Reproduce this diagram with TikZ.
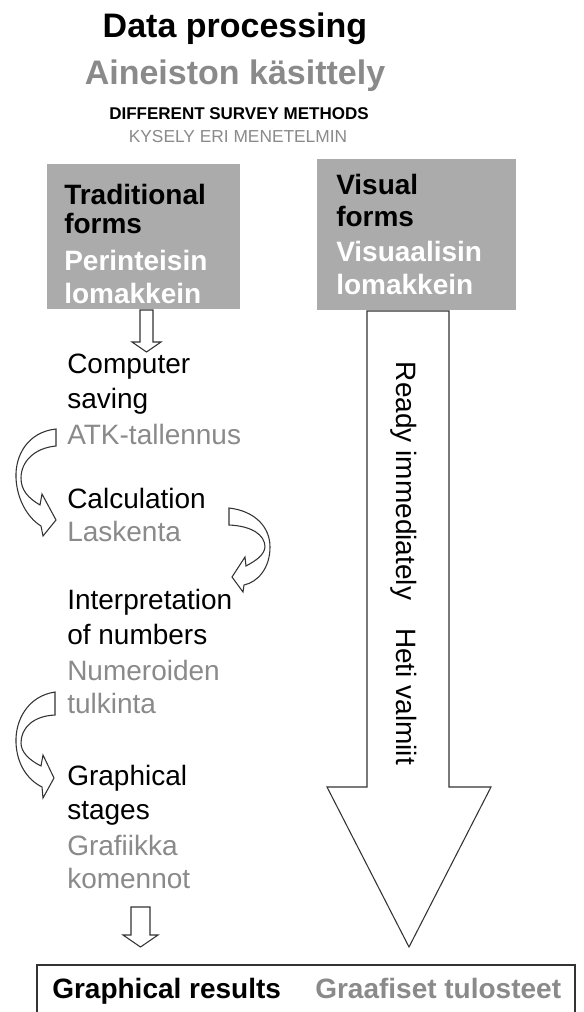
\documentclass[tikz,border=0pt]{standalone}
\usepackage{fontspec}
\setmainfont{Liberation Sans}
\definecolor{txtgray}{HTML}{8A8A8A}
\definecolor{boxgray}{HTML}{ABABAB}
\definecolor{linegray}{HTML}{333333}
\tikzset{
  lbl/.style={inner sep=0pt, anchor=base west, font=\fontsize{21}{25}\selectfont},
  lblfi/.style={lbl, text=txtgray},
  boxtxt/.style={inner sep=0pt, anchor=base west, font=\bfseries\fontsize{21}{25}\selectfont},
  boxtxtfi/.style={boxtxt, text=white},
  graybox/.style={fill=boxgray, inner sep=0pt, draw=none},
  arr/.style={draw=linegray, line width=0.8pt, fill=white, line join=miter},
  titletxt/.style={inner sep=0pt, anchor=base, font=\bfseries\fontsize{25.5}{30}\selectfont},
}
\begin{document}
\begin{tikzpicture}[x=0.75pt,y=-0.75pt]
\useasboundingbox (0,0) rectangle (584,1012);
\clip (0,0) rectangle (584,1012);
\fill[white] (0,0) rectangle (584,1012);

% titles
\node[titletxt] (t1) at (235,38) {Data processing};
\node[titletxt, text=txtgray] (t2) at (235,85) {Aineiston käsittely};
\node[inner sep=0pt, anchor=base, font=\bfseries\fontsize{12.75}{15}\selectfont] (t3) at (239,120) {DIFFERENT SURVEY METHODS};
\node[inner sep=0pt, anchor=base, text=txtgray, font=\fontsize{13}{15}\selectfont] (t4) at (238,143) {KYSELY ERI MENETELMIN};

% gray boxes
\node[graybox, minimum width=144.75pt, minimum height=108.75pt] (trad) at (143.5,236.5) {};
\node[graybox, minimum width=149.25pt, minimum height=113.25pt] (vis) at (416.5,234.5) {};
\node[boxtxt] (tr1) at (64,205) {Traditional};
\node[boxtxt] (tr2) at (64,234) {forms};
\node[boxtxtfi] (tr3) at (64,271) {Perinteisin};
\node[boxtxtfi] (tr4) at (64,303) {lomakkein};
\node[boxtxt] (vi1) at (336,195) {Visual};
\node[boxtxt] (vi2) at (336,227) {forms};
\node[boxtxtfi] (vi3) at (336,262) {Visuaalisin};
\node[boxtxtfi] (vi4) at (336,295) {lomakkein};

% big arrow
\draw[arr] (367,311) -- (367,787) -- (327,787) -- (409,947) -- (491,787) -- (449,787) -- (449,311) -- cycle;
\node[rotate=-90, anchor=base, inner sep=0pt, font=\fontsize{21}{25}\selectfont] (ready) at (396,563.5) {Ready immediately\hspace{21pt}Heti valmiit};

% small arrows
\draw[arr] (140,310) -- (140,342) -- (132,342) -- (146.5,352) -- (161,342) -- (153,342) -- (153,310) -- cycle;
\draw[arr] (131,907) -- (131,935) -- (123,935) -- (140.5,947) -- (158,935) -- (150,935) -- (150,907) -- cycle;

% left column
\node[lbl] (c1) at (67,373) {Computer};
\node[lbl] (c2) at (67,408) {saving};
\node[lblfi] (c3) at (67,444) {ATK-tallennus};
\node[lbl] (k1) at (67,508) {Calculation};
\node[lblfi] (k2) at (67,541) {Laskenta};
\node[lbl] (i1) at (67,609) {Interpretation};
\node[lbl] (i2) at (67,644) {of numbers};
\node[lblfi] (i3) at (67,680) {Numeroiden};
\node[lblfi] (i4) at (67,713) {tulkinta};
\node[lbl] (g1) at (67,785) {Graphical};
\node[lbl] (g2) at (67,819) {stages};
\node[lblfi] (g3) at (67,855) {Grafiikka};
\node[lblfi] (g4) at (67,888) {komennot};

% curved arrows
\draw[arr] (56,429) .. controls (28,432) and (15,455) .. (16,478)
  .. controls (17,500) and (28,518) .. (41,526)
  -- (43,536) -- (56,520) -- (42,494) -- (40,505)
  .. controls (28,498) and (21,490) .. (21,478)
  .. controls (21,462) and (34,448) .. (56,446) -- cycle;
\draw[arr] (229,508) .. controls (255,511) and (270,527) .. (270,547)
  .. controls (270,568) and (258,582) .. (244,585)
  -- (243,592) -- (232,577) -- (245,557) -- (246,566)
  .. controls (257,560) and (264,555) .. (265,547)
  .. controls (265,535) and (252,526) .. (229,525) -- cycle;
\draw[arr] (55,692) .. controls (28,696) and (15,720) .. (16,743)
  .. controls (17,765) and (28,780) .. (42,787)
  -- (43,798) -- (54,778) -- (43,755) -- (41,766)
  .. controls (29,760) and (21,752) .. (21,743)
  .. controls (21,728) and (33,716) .. (55,715) -- cycle;

% result box
\node[draw=linegray, line width=0.8pt, inner sep=0pt, minimum width=403.5pt, minimum height=75pt] (res) at (306,1015) {};
\node[boxtxt] (r1) at (52,998) {Graphical results};
\node[boxtxt, text=txtgray] (r2) at (315,998) {Graafiset tulosteet};
\end{tikzpicture}
\end{document}
